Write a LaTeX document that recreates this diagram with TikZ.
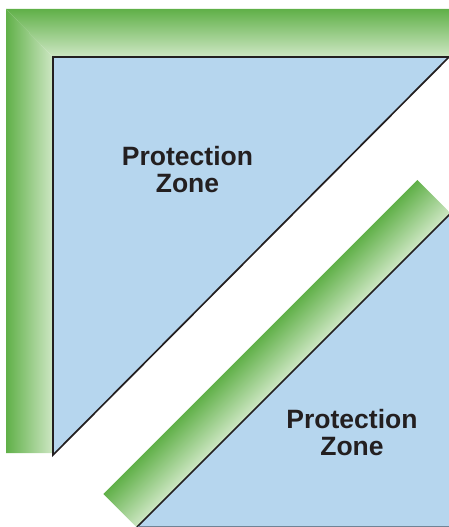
\documentclass[tikz,border=0pt]{standalone}
\usepackage{fontspec}
\setmainfont{Liberation Sans}
\usepackage{xcolor}
\usetikzlibrary{calc}

\definecolor{wallgreen}{RGB}{96,176,72}
\definecolor{walllight}{RGB}{206,231,196}
\definecolor{zoneblue}{RGB}{182,214,238}
\definecolor{edgegray}{RGB}{112,132,150}
\definecolor{inkdark}{RGB}{35,31,32}

\begin{document}
\begin{tikzpicture}[
  x=1pt, y=-1pt,
  zone/.style={fill=zoneblue},
  edge/.style={line width=1.7pt, draw=inkdark, line cap=butt},
  wall/.style={top color=wallgreen, bottom color=walllight},
  zonetext/.style={font=\fontsize{26.5}{27}\selectfont\bfseries, align=center,
                   text=inkdark, inner sep=0pt}
]
\clip (0,0) rectangle (449,527);

% corners of the upper zone
\coordinate (ul) at (53,57);
\coordinate (ur) at (449,57);
\coordinate (ll) at (53,455);
% corners of the lower zone
\coordinate (bl) at (137,527);
\coordinate (tr) at (451,213);
\coordinate (br) at (449,527);

% protection zones
\fill[zone] (ul) -- (ur) -- (ll) -- cycle;
\fill[zone] (bl) -- (tr) -- (452,527) -- cycle;

% wall, top and left side
\shade[wall] (6,9) -- (449,9) -- (ur) -- (ul) -- cycle;
\shade[left color=wallgreen, right color=walllight] (6,9) -- (ul) -- (53,453) -- (6,453) -- cycle;

% diagonal wall
\begin{scope}[transform canvas={shift={(120pt,-510.5pt)}, rotate=45}]
  \shade[wall] (0,-23.5) rectangle (444,23.5);
\end{scope}

% edges
\draw[edge] (ll) -- (ul) -- (ur) -- cycle;
\draw[edge] (bl) -- (tr);
\draw[line width=1.5pt, edgegray] (bl) ++(1,-0.5) -- ($(br)+(0,-0.5)$);

% labels
\node[zonetext] (zoneA) at (187.5,170) {Protection\\Zone};
\node[zonetext] (zoneB) at (352,433) {Protection\\Zone};
\end{tikzpicture}
\end{document}
